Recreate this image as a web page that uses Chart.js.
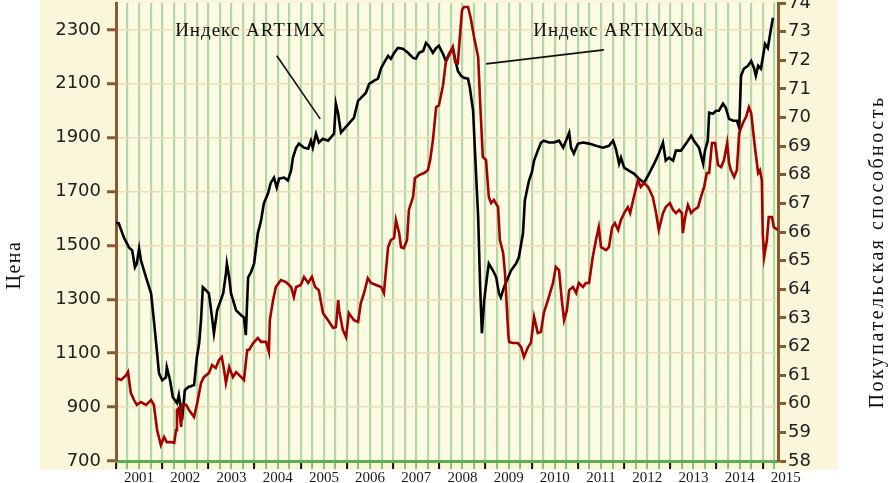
<!DOCTYPE html>
<html lang="ru">
<head>
<meta charset="utf-8">
<title>Индекс ARTIMX</title>
<script src="https://cdn.jsdelivr.net/npm/chart.js@4.4.1/dist/chart.umd.min.js"></script>
<style>
  html, body { margin: 0; padding: 0; background: #ffffff; }
  #wrap { width: 891px; height: 483px; }
</style>
</head>
<body>
<div id="wrap"><canvas id="artChart" width="891" height="483"></canvas></div>
<script>
// Индекс ARTIMX (цена, левая шкала)
const artimxYears = [
  2001.00, 2001.06, 2001.17, 2001.28, 2001.35, 2001.41, 2001.45, 2001.50, 2001.54, 2001.65,
  2001.76, 2001.82, 2001.89, 2001.93, 2002.00, 2002.08, 2002.10, 2002.17, 2002.23, 2002.32,
  2002.36, 2002.41, 2002.43, 2002.49, 2002.56, 2002.69, 2002.75, 2002.80, 2002.84, 2002.88,
  2002.95, 2003.01, 2003.06, 2003.12, 2003.19, 2003.25, 2003.32, 2003.38, 2003.40, 2003.45,
  2003.49, 2003.60, 2003.71, 2003.77, 2003.81, 2003.86, 2003.92, 2003.99, 2004.07, 2004.14,
  2004.20, 2004.29, 2004.35, 2004.42, 2004.48, 2004.53, 2004.64, 2004.72, 2004.79, 2004.83,
  2004.90, 2004.96, 2005.07, 2005.16, 2005.22, 2005.26, 2005.33, 2005.39, 2005.48, 2005.59,
  2005.68, 2005.72, 2005.76, 2005.81, 2005.83, 2005.87, 2005.94, 2006.04, 2006.15, 2006.24,
  2006.35, 2006.41, 2006.48, 2006.58, 2006.67, 2006.74, 2006.80, 2006.89, 2006.95, 2007.02,
  2007.10, 2007.21, 2007.32, 2007.43, 2007.49, 2007.56, 2007.65, 2007.71, 2007.77, 2007.86,
  2007.93, 2007.99, 2008.08, 2008.14, 2008.21, 2008.29, 2008.34, 2008.40, 2008.47, 2008.53,
  2008.62, 2008.66, 2008.73, 2008.77, 2008.84, 2008.88, 2008.92, 2008.97, 2009.03, 2009.07,
  2009.16, 2009.23, 2009.29, 2009.33, 2009.40, 2009.49, 2009.55, 2009.66, 2009.72, 2009.81,
  2009.85, 2009.94, 2010.00, 2010.05, 2010.13, 2010.20, 2010.26, 2010.37, 2010.48, 2010.59,
  2010.68, 2010.74, 2010.81, 2010.85, 2010.91, 2011.00, 2011.11, 2011.24, 2011.39, 2011.54,
  2011.67, 2011.76, 2011.82, 2011.89, 2011.93, 2012.00, 2012.10, 2012.21, 2012.32, 2012.43,
  2012.54, 2012.65, 2012.75, 2012.84, 2012.90, 2012.97, 2013.06, 2013.12, 2013.23, 2013.34,
  2013.45, 2013.51, 2013.62, 2013.71, 2013.75, 2013.81, 2013.84, 2013.92, 2013.99, 2014.05,
  2014.14, 2014.20, 2014.27, 2014.36, 2014.44, 2014.49, 2014.53, 2014.59, 2014.68, 2014.75,
  2014.81, 2014.85, 2014.90, 2014.96, 2015.00, 2015.05, 2015.11, 2015.16, 2015.22
];
const artimxValues = [
  1585, 1582, 1530, 1493, 1482, 1419, 1433, 1489, 1445, 1382,
  1322, 1222, 1100, 1026, 1000, 1011, 1048, 1000, 937, 915,
  945, 889, 852, 963, 974, 982, 1085, 1137, 1222, 1345,
  1333, 1322, 1259, 1174, 1259, 1289, 1322, 1396, 1433, 1382,
  1322, 1259, 1241, 1233, 1167, 1382, 1400, 1433, 1545, 1593,
  1656, 1693, 1733, 1752, 1715, 1748, 1752, 1741, 1778, 1826,
  1863, 1878, 1863, 1859, 1889, 1863, 1915, 1882, 1896, 1889,
  1907, 1915, 2026, 1989, 1963, 1919, 1933, 1952, 1974, 2037,
  2056, 2067, 2100, 2111, 2119, 2159, 2178, 2204, 2193, 2215,
  2233, 2230, 2215, 2196, 2193, 2215, 2222, 2252, 2241, 2215,
  2233, 2241, 2211, 2185, 2211, 2233, 2193, 2148, 2130, 2122,
  2119, 2085, 2000, 1852, 1604, 1359, 1174, 1296, 1382, 1433,
  1407, 1382, 1322, 1307, 1345, 1382, 1407, 1433, 1456, 1545,
  1667, 1741, 1770, 1815, 1852, 1882, 1889, 1882, 1882, 1889,
  1863, 1889, 1919, 1863, 1841, 1878, 1882, 1878, 1870, 1863,
  1870, 1889, 1859, 1804, 1826, 1789, 1778, 1767, 1748, 1733,
  1767, 1804, 1841, 1882, 1815, 1826, 1815, 1852, 1852, 1878,
  1907, 1889, 1863, 1804, 1852, 1889, 1993, 1989, 2000, 2000,
  2026, 2011, 1970, 1963, 1963, 1937, 2130, 2156, 2167, 2185,
  2159, 2130, 2167, 2156, 2196, 2248, 2233, 2285, 2345
];

// Индекс ARTIMXba (покупательская способность, правая шкала)
const artimxbaYears = [
  2001.00, 2001.11, 2001.22, 2001.26, 2001.32, 2001.39, 2001.45, 2001.54, 2001.65, 2001.76,
  2001.82, 2001.89, 2001.97, 2002.04, 2002.10, 2002.19, 2002.26, 2002.30, 2002.32, 2002.36,
  2002.41, 2002.43, 2002.52, 2002.58, 2002.69, 2002.75, 2002.84, 2002.90, 2003.01, 2003.08,
  2003.16, 2003.23, 2003.29, 2003.34, 2003.38, 2003.45, 2003.53, 2003.60, 2003.71, 2003.77,
  2003.84, 2003.88, 2003.97, 2004.07, 2004.14, 2004.25, 2004.31, 2004.33, 2004.40, 2004.46,
  2004.57, 2004.68, 2004.79, 2004.85, 2004.90, 2005.00, 2005.07, 2005.16, 2005.24, 2005.31,
  2005.39, 2005.48, 2005.59, 2005.70, 2005.76, 2005.81, 2005.83, 2005.91, 2005.98, 2006.04,
  2006.15, 2006.24, 2006.30, 2006.37, 2006.45, 2006.52, 2006.63, 2006.74, 2006.80, 2006.89,
  2006.95, 2007.02, 2007.06, 2007.13, 2007.17, 2007.23, 2007.30, 2007.34, 2007.43, 2007.47,
  2007.56, 2007.67, 2007.75, 2007.80, 2007.86, 2007.93, 2007.99, 2008.08, 2008.14, 2008.21,
  2008.29, 2008.34, 2008.40, 2008.45, 2008.49, 2008.53, 2008.62, 2008.68, 2008.75, 2008.84,
  2008.88, 2008.94, 2009.01, 2009.07, 2009.12, 2009.18, 2009.27, 2009.31, 2009.38, 2009.42,
  2009.49, 2009.51, 2009.59, 2009.70, 2009.77, 2009.83, 2009.92, 2009.98, 2010.05, 2010.13,
  2010.20, 2010.26, 2010.35, 2010.46, 2010.52, 2010.59, 2010.65, 2010.70, 2010.76, 2010.81,
  2010.89, 2010.96, 2011.02, 2011.11, 2011.17, 2011.24, 2011.32, 2011.39, 2011.45, 2011.50,
  2011.61, 2011.67, 2011.74, 2011.80, 2011.87, 2011.93, 2012.00, 2012.08, 2012.13, 2012.21,
  2012.30, 2012.36, 2012.43, 2012.52, 2012.62, 2012.69, 2012.75, 2012.84, 2012.90, 2012.99,
  2013.06, 2013.12, 2013.19, 2013.25, 2013.27, 2013.32, 2013.38, 2013.45, 2013.51, 2013.60,
  2013.66, 2013.73, 2013.79, 2013.84, 2013.90, 2013.97, 2014.03, 2014.10, 2014.16, 2014.23,
  2014.27, 2014.31, 2014.38, 2014.44, 2014.49, 2014.57, 2014.64, 2014.70, 2014.75, 2014.79,
  2014.83, 2014.90, 2014.94, 2014.98, 2015.00, 2015.03, 2015.09, 2015.13, 2015.20, 2015.24,
  2015.33
];
const artimxbaValues = [
  60.90, 60.83, 61.00, 61.11, 60.38, 60.13, 59.96, 60.06, 59.96, 60.13,
  59.96, 59.08, 58.56, 58.84, 58.66, 58.66, 58.63, 59.08, 59.78, 59.85,
  59.19, 59.96, 59.96, 59.78, 59.54, 59.96, 60.72, 60.93, 61.07, 61.35,
  61.25, 61.53, 61.63, 61.18, 60.72, 61.28, 60.93, 61.11, 60.93, 60.83,
  61.88, 61.88, 62.12, 62.30, 62.16, 62.16, 61.81, 62.92, 63.62, 64.08,
  64.32, 64.25, 64.08, 63.73, 64.08, 64.15, 64.43, 64.22, 64.43, 64.08,
  63.97, 63.17, 62.92, 62.65, 62.68, 63.62, 63.27, 62.58, 62.33, 63.17,
  62.92, 62.86, 63.52, 63.87, 64.39, 64.22, 64.15, 64.08, 63.87, 65.47,
  65.72, 65.79, 66.42, 65.96, 65.47, 65.44, 65.72, 66.77, 67.22, 67.88,
  67.99, 68.06, 68.16, 68.51, 69.21, 70.36, 70.43, 71.13, 71.94, 72.18,
  72.46, 71.94, 71.90, 72.95, 73.75, 73.86, 73.86, 73.47, 72.81, 72.11,
  70.61, 68.62, 68.51, 67.22, 67.01, 67.12, 66.87, 65.72, 65.27, 64.57,
  62.47, 62.16, 62.12, 62.12, 61.98, 61.63, 61.98, 62.12, 63.03, 62.47,
  62.51, 63.17, 63.62, 64.22, 64.78, 64.67, 63.62, 62.92, 63.27, 63.97,
  64.08, 63.87, 64.22, 64.08, 64.22, 64.22, 65.13, 65.72, 66.17, 65.47,
  65.37, 65.47, 66.17, 66.31, 66.07, 66.42, 66.66, 66.87, 66.66, 67.22,
  67.81, 67.57, 67.71, 67.57, 67.22, 66.66, 66.07, 66.66, 66.87, 67.01,
  66.77, 66.66, 66.77, 66.66, 65.96, 66.52, 66.94, 66.66, 66.77, 66.87,
  67.22, 67.57, 68.06, 68.06, 69.11, 69.11, 68.34, 68.27, 68.51, 69.11,
  68.41, 68.16, 67.92, 68.16, 69.46, 69.81, 70.02, 70.36, 70.15, 69.56,
  68.97, 68.06, 68.16, 67.81, 65.96, 65.13, 65.72, 66.52, 66.52, 66.17,
  66.07
];

const priceTicks = [700, 900, 1100, 1300, 1500, 1700, 1900, 2100, 2300];
const powerTicks = [58, 59, 60, 61, 62, 63, 64, 65, 66, 67, 68, 69, 70, 71, 72, 73, 74];
const yearLabels = [2001, 2002, 2003, 2004, 2005, 2006, 2007, 2008, 2009, 2010, 2011, 2012, 2013, 2014, 2015];

const xMin = 2001;
const xMax = 2015.33;

// подписи-указатели: точка текста и линия-выноска (в единицах осей)
const callouts = [
  { text: 'Индекс ARTIMX', tx: 2002.28, ty: 2296, from: [2004.48, 2204], to: [2005.42, 1970] },
  { text: 'Индекс ARTIMXba', tx: 2010.03, ty: 2296, from: [2009.01, 2174], to: [2011.56, 2226] }
];

function toPoints(xs, ys) {
  return xs.map((x, i) => ({ x: x, y: ys[i] }));
}

function quarterTicks() {
  const ticks = [];
  for (let v = xMin; v <= xMax + 0.001; v += 0.25) ticks.push({ value: v });
  // подпись последнего года стоит за краем оси
  ticks.push({ value: yearLabels[yearLabels.length - 1] + 0.5 });
  return ticks;
}

const isYear = v => Math.abs(v - Math.round(v)) < 0.001;
const isMid = v => Math.abs(v - Math.floor(v) - 0.5) < 0.001;

const backgroundPlugin = {
  id: 'yellowBack',
  beforeDraw(chart) {
    const { ctx, chartArea: a } = chart;
    ctx.save();
    ctx.fillStyle = '#f9f6d9';
    ctx.fillRect(a.left - 76, 0, a.right - a.left + 136, a.bottom + 9);
    ctx.fillStyle = '#fcfae3';
    ctx.fillRect(a.left, a.top, a.right - a.left, a.bottom - a.top);
    ctx.restore();
  }
};

const labelsPlugin = {
  id: 'callouts',
  afterDatasetsDraw(chart) {
    const { ctx, chartArea: a } = chart;
    const sx = chart.scales.x, sy = chart.scales.y;
    ctx.save();
    ctx.strokeStyle = '#111';
    ctx.lineWidth = 1.6;
    ctx.fillStyle = '#111';
    ctx.font = '19px "Liberation Serif", "DejaVu Serif", serif';
    ctx.textBaseline = 'middle';
    ctx.letterSpacing = '1px';
    callouts.forEach(c => {
      ctx.beginPath();
      ctx.moveTo(sx.getPixelForValue(c.from[0]), sy.getPixelForValue(c.from[1]));
      ctx.lineTo(sx.getPixelForValue(c.to[0]), sy.getPixelForValue(c.to[1]));
      ctx.stroke();
      ctx.fillText(c.text, sx.getPixelForValue(c.tx), sy.getPixelForValue(c.ty));
    });

    // заголовки осей
    ctx.font = '20px "Liberation Serif", "DejaVu Serif", serif';
    ctx.textAlign = 'center';
    ctx.letterSpacing = '1.5px';
    ctx.translate(a.left - 101, a.top + 262);
    ctx.rotate(-Math.PI / 2);
    ctx.fillText('Цена', 0, 0);
    ctx.restore();

    ctx.save();
    ctx.fillStyle = '#111';
    ctx.font = '20px "Liberation Serif", "DejaVu Serif", serif';
    ctx.textAlign = 'center';
    ctx.textBaseline = 'middle';
    ctx.letterSpacing = '2.5px';
    ctx.translate(a.right + 100, a.top + 249);
    ctx.rotate(-Math.PI / 2);
    ctx.fillText('Покупательская способность', 0, 0);
    ctx.restore();
  }
};

const ctx = document.getElementById('artChart').getContext('2d');

new Chart(ctx, {
  type: 'line',
  data: {
    datasets: [
      {
        label: 'Индекс ARTIMXba',
        data: toPoints(artimxbaYears, artimxbaValues),
        yAxisID: 'y1',
        borderColor: '#a30000',
        borderWidth: 2.6,
        pointRadius: 0,
        tension: 0,
        order: 0
      },
      {
        label: 'Индекс ARTIMX',
        data: toPoints(artimxYears, artimxValues),
        yAxisID: 'y',
        borderColor: '#000000',
        borderWidth: 2.6,
        pointRadius: 0,
        tension: 0,
        order: 1
      }
    ]
  },
  options: {
    responsive: false,
    devicePixelRatio: 1,
    animation: false,
    layout: { padding: { top: 3, left: 0, right: 0, bottom: 0 } },
    plugins: {
      legend: { display: false },
      tooltip: { enabled: false }
    },
    scales: {
      x: {
        type: 'linear',
        position: 'bottom',
        min: xMin,
        max: xMax,
        afterBuildTicks: scale => { scale.ticks = quarterTicks(); },
        afterFit: scale => {
          scale.height = 22;
          scale.paddingLeft = 0;
          scale.paddingRight = 0;
        },
        border: { color: '#5fae52', width: 3 },
        grid: {
          color: c => (c.tick && c.tick.value > xMax + 0.01 ? 'rgba(0,0,0,0)' : '#b2d9a3'),
          lineWidth: 2.2,
          tickLength: 8,
          tickColor: c => {
            if (!c.tick || c.tick.value > xMax + 0.01) return 'rgba(0,0,0,0)';
            return isYear(c.tick.value) ? '#111111' : '#6cb85e';
          },
          tickWidth: c => (c.tick && isYear(c.tick.value) ? 2 : 1.6)
        },
        ticks: {
          autoSkip: false,
          maxRotation: 0,
          minRotation: 0,
          padding: 0,
          color: '#1a1a1a',
          font: { family: '"Liberation Serif", "DejaVu Serif", serif', size: 15 },
          callback: v => (isMid(v) && yearLabels.includes(Math.floor(v)) ? String(Math.floor(v)) : '')
        }
      },
      y: {
        type: 'linear',
        position: 'left',
        min: 700,
        max: 2400,
        afterBuildTicks: scale => { scale.ticks = priceTicks.map(v => ({ value: v })); },
        afterFit: scale => {
          scale.width = 116;
          scale.paddingTop = 0;
          scale.paddingBottom = 0;
        },
        border: { color: '#8a5a2e', width: 3 },
        grid: {
          color: '#efdcb6',
          lineWidth: 1.5,
          tickLength: 9,
          tickColor: '#8a5a2e',
          tickWidth: 3
        },
        ticks: {
          padding: 6,
          color: '#222222',
          font: { family: '"DejaVu Sans", Verdana, sans-serif', size: 18 },
          callback: v => String(v)
        }
      },
      y1: {
        type: 'linear',
        position: 'right',
        min: 58,
        max: 74,
        afterBuildTicks: scale => { scale.ticks = powerTicks.map(v => ({ value: v })); },
        afterFit: scale => {
          scale.width = 113;
          scale.paddingTop = 0;
          scale.paddingBottom = 0;
        },
        border: { color: '#8a5a2e', width: 3 },
        grid: {
          drawOnChartArea: false,
          tickLength: 8,
          tickColor: '#8a5a2e',
          tickWidth: 3
        },
        ticks: {
          padding: 2,
          color: '#222222',
          font: { family: '"DejaVu Sans", Verdana, sans-serif', size: 18 },
          callback: v => String(v)
        }
      }
    }
  },
  plugins: [backgroundPlugin, labelsPlugin]
});
</script>
</body>
</html>
